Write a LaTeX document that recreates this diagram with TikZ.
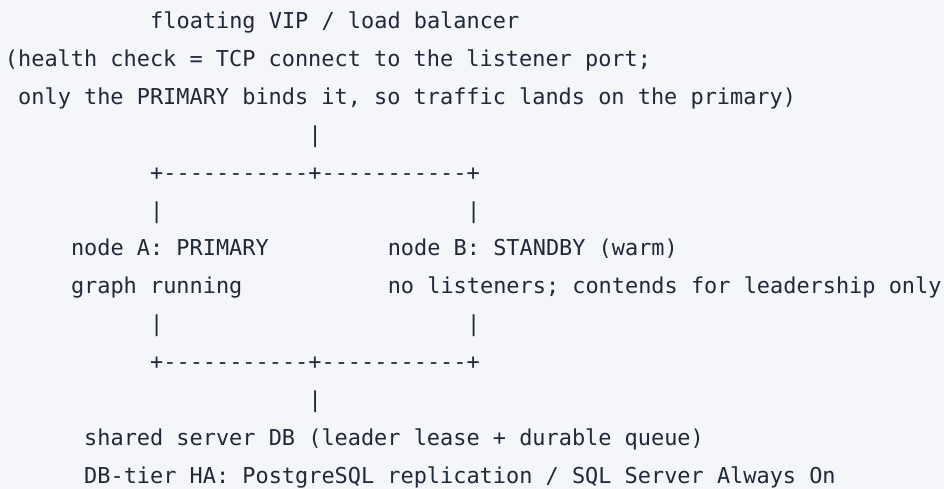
\documentclass[tikz,border=0pt]{standalone}
\usepackage{fontspec}
\newfontfamily\codefont{DejaVu Sans Mono}
\definecolor{bgc}{HTML}{F5F6F9}
\definecolor{txt}{HTML}{1F2937}
\begin{document}
\begin{tikzpicture}[x=1pt,y=-1pt,
  codeline/.style={anchor=base west, inner sep=0pt, outer sep=0pt, text=txt,
    font=\codefont\fontsize{21.9}{26}\selectfont}]
\fill[bgc] (0,0) rectangle (944,489);
\useasboundingbox (0,0) rectangle (944,489);
% column x = 5 + 13.2*col ; baseline y = 28.5 + 37.9*(line-1)
\node[codeline] (vip)   at (150.2,28.5)  {floating VIP / load balancer};
\node[codeline] (hc1)   at (5,66.4)      {(health check = TCP connect to the listener port;};
\node[codeline] (hc2)   at (18.2,104.3)  {only the PRIMARY binds it, so traffic lands on the primary)};
\node[codeline] (v1)    at (308.6,142.2) {|};
\node[codeline] (bar1)  at (150.2,180.1) {+-----------+-----------+};
\node[codeline] (va1)   at (150.2,218.0) {|};
\node[codeline] (vb1)   at (467,218.0)   {|};
\node[codeline] (na1)   at (71,255.9)    {node A: PRIMARY};
\node[codeline] (nb1)   at (387.8,255.9) {node B: STANDBY (warm)};
\node[codeline] (na2)   at (71,293.8)    {graph running};
\node[codeline] (nb2)   at (387.8,293.8) {no listeners; contends for leadership only};
\node[codeline] (va2)   at (150.2,331.7) {|};
\node[codeline] (vb2)   at (467,331.7)   {|};
\node[codeline] (bar2)  at (150.2,369.6) {+-----------+-----------+};
\node[codeline] (v2)    at (308.6,407.5) {|};
\node[codeline] (db1)   at (84.2,445.4)  {shared server DB (leader lease + durable queue)};
\node[codeline] (db2)   at (84.2,483.3)  {DB-tier HA: PostgreSQL replication / SQL Server Always On};
\end{tikzpicture}
\end{document}
